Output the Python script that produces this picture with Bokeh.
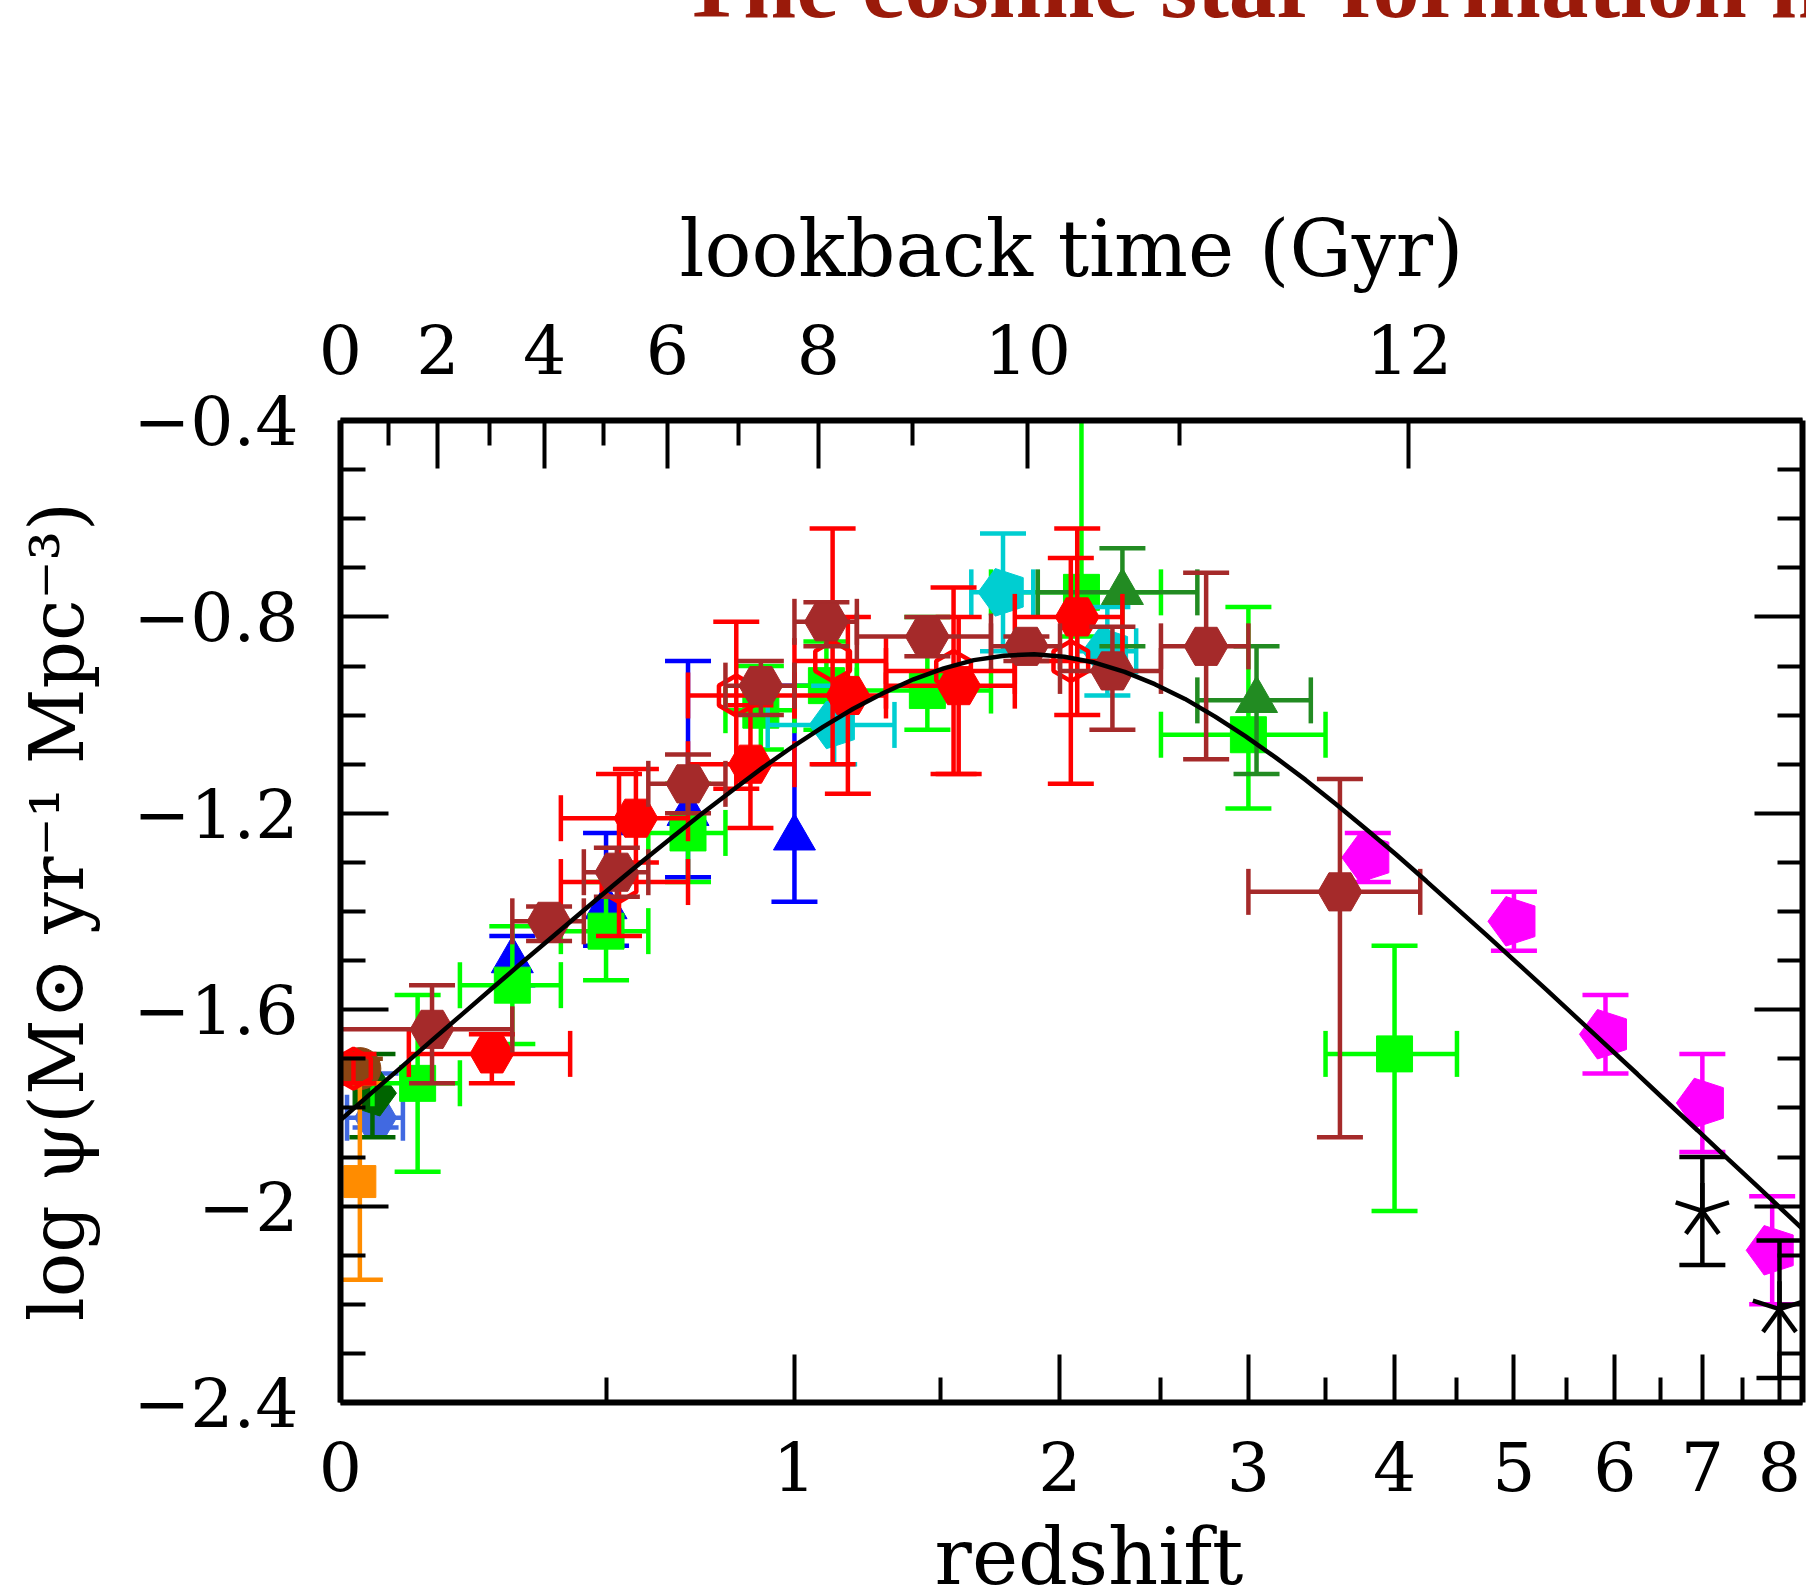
import numpy as np
from bokeh.plotting import figure
from bokeh.layouts import column
from bokeh.models import Range1d, LinearAxis, FixedTicker, Div
from bokeh.embed import file_html
from bokeh.resources import INLINE

# ---------------- data ----------------
# UV-based estimates
wyder_z, wyder_zlo, wyder_zhi = [0.055], [0.01], [0.10]
wyder_y, wyder_eh, wyder_el = [-1.82], [0.09], [0.02]

schim_z = [0.3, 0.5, 0.7, 1.0]
schim_y = [-1.50, -1.39, -1.20, -1.25]
schim_eh = [0.05, 0.15, 0.31, 0.31]
schim_el = [0.05, 0.08, 0.13, 0.13]

robo_z, robo_y, robo_eh, robo_el = [0.05], [-1.77], [0.08], [0.09]

cucc_z = [0.125, 0.3, 0.5, 0.7, 0.9, 1.1, 1.45, 2.1, 3.0, 4.0]
cucc_zlo = [0.05, 0.2, 0.4, 0.6, 0.8, 1.0, 1.2, 1.7, 2.5, 3.5]
cucc_zhi = [0.2, 0.4, 0.6, 0.8, 1.0, 1.2, 1.7, 2.5, 3.5, 4.5]
cucc_y = [-1.75, -1.55, -1.44, -1.24, -0.99, -0.94, -0.95, -0.75, -1.04, -1.69]
cucc_eh = [0.18, 0.12, 0.10, 0.10, 0.09, 0.09, 0.15, 0.49, 0.26, 0.22]
cucc_el = [0.18, 0.12, 0.10, 0.10, 0.08, 0.09, 0.08, 0.09, 0.15, 0.32]

dahl_z = [1.125, 1.75, 2.225]
dahl_zlo = [0.92, 1.62, 2.08]
dahl_zhi = [1.33, 1.88, 2.37]
dahl_y = [-1.02, -0.75, -0.87]
dahl_e = [0.08, 0.12, 0.09]

reddy_z, reddy_zlo, reddy_zhi = [2.3, 3.05], [1.9, 2.7], [2.7, 3.4]
reddy_y, reddy_eh, reddy_el = [-0.75, -0.97], [0.09, 0.11], [0.11, 0.15]

bouw_z = [3.8, 5.0, 5.9, 7.0, 7.9]
bouw_y = [-1.29, -1.42, -1.65, -1.79, -2.09]
bouw_e = [0.05, 0.06, 0.08, 0.10, 0.11]

schenk_z, schenk_y, schenk_e = [7.0, 8.0], [-2.01, -2.21], [0.11, 0.14]

# IR-based estimates
sand_z, sand_y, sand_eh, sand_el = [0.03], [-1.72], [0.02], [0.03]
take_z, take_y, take_e = [0.03], [-1.95], [0.20]

mag11_z = [0.02, 0.53, 0.83, 1.12, 1.55, 2.05]
mag11_zlo = [0.02, 0.4, 0.7, 1.0, 1.3, 1.8]
mag11_zhi = [0.02, 0.7, 1.0, 1.3, 1.8, 2.3]
mag11_y = [-1.72, -1.34, -0.96, -0.89, -0.91, -0.89]
mag11_eh = [0.03, 0.22, 0.15, 0.27, 0.17, 0.21]
mag11_el = [0.03, 0.11, 0.19, 0.21, 0.21, 0.25]

mag13_z = [0.26, 0.57, 0.87, 1.17, 1.57, 2.08]
mag13_zlo = [0.11, 0.4, 0.7, 1.0, 1.3, 1.8]
mag13_zhi = [0.42, 0.7, 1.0, 1.3, 1.8, 2.3]
mag13_y = [-1.69, -1.21, -1.10, -0.96, -0.94, -0.80]
mag13_eh = [0.04, 0.10, 0.12, 0.16, 0.14, 0.18]
mag13_el = [0.06, 0.09, 0.13, 0.20, 0.18, 0.20]

grup_z = [0.15, 0.375, 0.525, 0.7, 0.9, 1.1, 1.45, 1.85, 2.25, 2.75, 3.6]
grup_zlo = [0.0, 0.3, 0.45, 0.6, 0.8, 1.0, 1.2, 1.7, 2.0, 2.5, 3.0]
grup_zhi = [0.3, 0.45, 0.6, 0.8, 1.0, 1.2, 1.7, 2.0, 2.5, 3.0, 4.2]
grup_y = [-1.64, -1.42, -1.32, -1.14, -0.94, -0.81, -0.84, -0.86, -0.91, -0.86, -1.36]
grup_eh = [0.09, 0.03, 0.05, 0.06, 0.05, 0.04, 0.04, 0.02, 0.09, 0.15, 0.23]
grup_el = [0.11, 0.04, 0.05, 0.06, 0.06, 0.05, 0.04, 0.03, 0.12, 0.23, 0.50]

# best-fit curve, read along log(1+z)
fit_log1pz = [0.00, 0.02, 0.04, 0.06, 0.08, 0.10, 0.12, 0.14, 0.16, 0.18, 0.20, 0.22,
              0.24, 0.26, 0.28, 0.30, 0.32, 0.34, 0.36, 0.38, 0.40, 0.42, 0.44, 0.46,
              0.48, 0.50, 0.52, 0.54, 0.56, 0.58, 0.60, 0.62, 0.64, 0.66, 0.68, 0.70,
              0.72, 0.74, 0.76, 0.78, 0.80, 0.82, 0.84, 0.86, 0.88, 0.90, 0.92, 0.94,
              0.96, 0.97]
fit_logpsi = [-1.825, -1.771, -1.718, -1.664, -1.611, -1.558, -1.505, -1.453, -1.401,
              -1.349, -1.298, -1.249, -1.200, -1.153, -1.107, -1.064, -1.024, -0.987,
              -0.955, -0.927, -0.905, -0.888, -0.879, -0.876, -0.881, -0.893, -0.912,
              -0.937, -0.967, -1.003, -1.043, -1.086, -1.132, -1.181, -1.232, -1.284,
              -1.338, -1.393, -1.448, -1.504, -1.560, -1.617, -1.674, -1.731, -1.789,
              -1.846, -1.904, -1.961, -2.019, -2.048]

# axis ticks and texts
z_major = [0, 1, 2, 3, 4, 5, 6, 7, 8]
z_minor = [0.5, 1.5, 2.5, 3.5, 4.5, 5.5, 6.5, 7.5]
lookback_major = [0, 2, 4, 6, 8, 10, 12]
lookback_minor = [1, 3, 5, 7, 9, 11]
y_major = [-0.4, -0.8, -1.2, -1.6, -2.0, -2.4]
y_major_labels = ["\u22120.4", "\u22120.8", "\u22121.2", "\u22121.6", "\u22122", "\u22122.4"]
title_text = "The cosmic star formation history"
xlabel_text = "redshift"

# ---------------- helpers ----------------
def L(z):
    return np.log10(1.0 + np.asarray(z, dtype=float))

H0, Om, OL = 70.0, 0.3, 0.7
tH = 977.8 / H0
def age(z):
    return 2 * tH / (3 * np.sqrt(OL)) * np.arcsinh(np.sqrt(OL / Om) * (1 + z) ** -1.5)
def z_at_lookback(t):
    ta = age(0.0) - t
    return (np.sqrt(OL / Om) / np.sinh(ta * 3 * np.sqrt(OL) / (2 * tH))) ** (2.0 / 3.0) - 1

W = 1806
TITLE_H = 18
BOTTOM_BORDER = 120
MAIN_H = (420 - TITLE_H) + 982 + BOTTOM_BORDER
XLABEL_H = 1591 - TITLE_H - MAIN_H

# ---- title strip (cut at the top, as in the reference) ----
title_html = (
    '<div style="width:%dpx;height:%dpx;overflow:hidden;position:relative;margin:0;padding:0;">'
    '<div style="position:absolute;left:680px;top:-62px;white-space:nowrap;'
    "font-family:'Liberation Serif',serif;font-weight:bold;font-size:95px;line-height:95px;"
    'color:#9a1a0a;">%s</div></div>' % (W, TITLE_H, title_text)
)
pt = Div(text=title_html, width=W, height=TITLE_H, margin=(0, 0, 0, 0))

# ---- x-axis title strip below the plot ----
xlabel_html = (
    '<div style="width:%dpx;height:%dpx;overflow:visible;position:relative;margin:0;padding:0;">'
    '<div style="position:absolute;left:589px;top:5px;width:1000px;text-align:center;white-space:nowrap;'
    "font-family:'DejaVu Serif',serif;font-size:78px;line-height:60px;"
    'color:black;">%s</div></div>' % (W, XLABEL_H, xlabel_text)
)
pb = Div(text=xlabel_html, width=W, height=XLABEL_H, margin=(0, 0, 0, 0))

# ---- main plot ----
X_MAX = 0.9695
p = figure(width=W, height=MAIN_H, x_range=Range1d(0, X_MAX), y_range=Range1d(-2.4, -0.4),
           output_backend="svg", toolbar_location=None,
           x_axis_location=None, y_axis_location=None,
           min_border_left=340, min_border_right=4, min_border_top=420 - TITLE_H,
           min_border_bottom=BOTTOM_BORDER)
p.outline_line_color = None
p.xgrid.visible = False
p.ygrid.visible = False

FONT = "DejaVu Serif"
def style(ax):
    ax.axis_line_width = 6
    ax.axis_line_color = "black"
    ax.major_tick_in = 48
    ax.major_tick_out = 0
    ax.minor_tick_in = 25
    ax.minor_tick_out = 0
    ax.major_tick_line_width = 4
    ax.minor_tick_line_width = 4
    ax.major_label_text_font = FONT
    ax.major_label_text_font_size = "68px"
    ax.major_label_text_color = "black"
    ax.axis_label_text_font = FONT
    ax.axis_label_text_font_style = "normal"
    ax.axis_label_text_color = "black"

# bottom axis (redshift ticks; its title is the strip below)
xb_ticks = [float(v) for v in L(z_major)]
bottom = LinearAxis(ticker=FixedTicker(ticks=xb_ticks, minor_ticks=[float(v) for v in L(z_minor)]),
                    major_label_overrides={t: str(z) for t, z in zip(xb_ticks, z_major)})
style(bottom)
bottom.major_label_standoff = 39
p.add_layout(bottom, "below")

# top axis (lookback time)
xt_ticks = [0.0] + [float(L(z_at_lookback(t))) for t in lookback_major[1:]]
xt_minor = [float(L(z_at_lookback(t))) for t in lookback_minor]
top = LinearAxis(ticker=FixedTicker(ticks=xt_ticks, minor_ticks=xt_minor),
                 major_label_overrides={t: str(v) for t, v in zip(xt_ticks, lookback_major)},
                 axis_label="lookback time (Gyr)")
style(top)
top.major_label_standoff = 47
top.axis_label_standoff = 28
top.axis_label_text_font_size = "78px"
p.add_layout(top, "above")

# left / right axes
y_minor = [float(v) for v in np.round(np.arange(-2.3, -0.45, 0.1), 1) if round(v, 1) not in y_major]
left = LinearAxis(ticker=FixedTicker(ticks=y_major, minor_ticks=y_minor),
                  major_label_overrides={t: s for t, s in zip(y_major, y_major_labels)},
                  axis_label="log \u03c8(M\u2299 yr\u207b\u00b9 Mpc\u207b\u00b3)")
style(left)
left.major_label_standoff = 42
left.axis_label_standoff = 30
left.axis_label_text_font_size = "74px"
p.add_layout(left, "left")

right = LinearAxis(ticker=FixedTicker(ticks=y_major, minor_ticks=y_minor),
                   major_label_overrides={t: "" for t in y_major})
style(right)
right.major_label_standoff = 0
right.major_label_text_font_size = "0px"
p.add_layout(right, "right")

LW = 4.5
CAP = 46
def errbars(z, y, eh, el, color, zlo=None, zhi=None):
    x = L(z)
    y = np.asarray(y, float)
    yh = y + np.asarray(eh, float)
    yl = y - np.asarray(el, float)
    p.segment(x0=x, y0=yl, x1=x, y1=yh, line_color=color, line_width=LW)
    p.scatter(x=np.r_[x, x], y=np.r_[yl, yh], marker="dash", size=CAP, line_color=color, line_width=LW)
    if zlo is not None:
        xl, xh = L(zlo), L(zhi)
        m = xh > xl
        p.segment(x0=xl[m], y0=y[m], x1=xh[m], y1=y[m], line_color=color, line_width=LW)
        p.scatter(x=np.r_[xl[m], xh[m]], y=np.r_[y[m], y[m]], marker="dash", angle=np.pi / 2,
                  size=CAP, line_color=color, line_width=LW)

def pentagon(z, y, color, R, inverted=False):
    ang = np.pi / 2 if not inverted else -np.pi / 2
    p.ngon(x=L(z), y=np.asarray(y, float), radius=R, radius_units="screen", n=5, angle=ang,
           fill_color=color, line_color=color, line_width=1)

# ---- UV ----
errbars(wyder_z, wyder_y, wyder_eh, wyder_el, "royalblue", wyder_zlo, wyder_zhi)
p.scatter(x=L(wyder_z), y=wyder_y, marker="hex", size=42, fill_color="royalblue", line_color="royalblue")

errbars(schim_z, schim_y, schim_eh, schim_el, "blue")
p.scatter(x=L(schim_z), y=schim_y, marker="triangle", size=42, fill_color="blue", line_color="blue")

errbars(robo_z, robo_y, robo_eh, robo_el, "darkgreen")
pentagon(robo_z, robo_y, "darkgreen", 24, inverted=True)

errbars(cucc_z, cucc_y, cucc_eh, cucc_el, "lime", cucc_zlo, cucc_zhi)
p.scatter(x=L(cucc_z), y=cucc_y, marker="square", size=36, fill_color="lime", line_color="lime")

errbars(dahl_z, dahl_y, dahl_e, dahl_e, "darkturquoise", dahl_zlo, dahl_zhi)
pentagon(dahl_z, dahl_y, "darkturquoise", 25)

errbars(reddy_z, reddy_y, reddy_eh, reddy_el, "forestgreen", reddy_zlo, reddy_zhi)
p.scatter(x=L(reddy_z), y=reddy_y, marker="triangle", size=42, fill_color="forestgreen", line_color="forestgreen")

errbars(bouw_z, bouw_y, bouw_e, bouw_e, "magenta")
pentagon(bouw_z, bouw_y, "magenta", 26)

errbars(schenk_z, schenk_y, schenk_e, schenk_e, "black")
arms = [90, 18, 162, 234, 306]
p.ray(x=np.repeat(L(schenk_z), len(arms)), y=np.repeat(schenk_y, len(arms)),
      angle=np.tile(arms, len(schenk_z)), angle_units="deg", length=28, length_units="screen",
      line_color="black", line_width=LW)

# ---- IR ----
errbars(sand_z, sand_y, sand_eh, sand_el, "saddlebrown")
p.scatter(x=L(sand_z), y=sand_y, marker="circle", size=42, fill_color="saddlebrown", line_color="saddlebrown")

errbars(take_z, take_y, take_e, take_e, "darkorange")
p.scatter(x=L(take_z), y=take_y, marker="square", size=32, fill_color="darkorange", line_color="darkorange")

errbars(mag11_z, mag11_y, mag11_eh, mag11_el, "red", mag11_zlo, mag11_zhi)
p.scatter(x=L(mag11_z), y=mag11_y, marker="hex", size=40, angle=np.pi / 2,
          fill_color=None, line_color="red", line_width=LW)

errbars(mag13_z, mag13_y, mag13_eh, mag13_el, "red", mag13_zlo, mag13_zhi)
p.scatter(x=L(mag13_z), y=mag13_y, marker="hex", size=44, fill_color="red", line_color="red")

errbars(grup_z, grup_y, grup_eh, grup_el, "#a52a2a", grup_zlo, grup_zhi)
p.scatter(x=L(grup_z), y=grup_y, marker="hex", size=44, fill_color="#a52a2a", line_color="#a52a2a")

# ---- fit ----
p.line(x=fit_log1pz, y=fit_logpsi, line_color="black", line_width=4.5)

layout = column(pt, p, pb, spacing=0)
open("out.html", "w").write(file_html(layout, INLINE))
